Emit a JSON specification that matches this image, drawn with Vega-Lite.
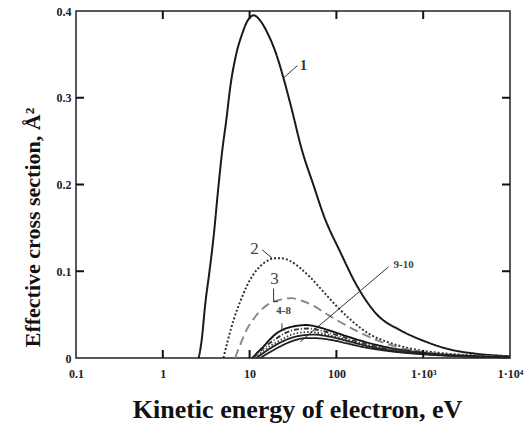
{
  "$schema": "https://vega.github.io/schema/vega-lite/v6.json",
  "width": 434,
  "height": 347,
  "autosize": {"type": "none"},
  "padding": {"left": 76, "top": 11, "right": 18, "bottom": 68},
  "background": "white",
  "config": {"view": {"stroke": "#222", "strokeWidth": 1.5}, "font": "Liberation Serif"},
  "datasets": {
    "curves": [
      {"curve": "1", "E": 2.59, "s": 0}, {"curve": "1", "E": 2.8, "s": 0.02}, {"curve": "1", "E": 3.09, "s": 0.063}, {"curve": "1", "E": 3.45, "s": 0.1}, {"curve": "1", "E": 3.85, "s": 0.14}, {"curve": "1", "E": 4.3, "s": 0.19}, {"curve": "1", "E": 4.8, "s": 0.236}, {"curve": "1", "E": 5.4, "s": 0.275}, {"curve": "1", "E": 6.0, "s": 0.313}, {"curve": "1", "E": 7.0, "s": 0.35}, {"curve": "1", "E": 8.17, "s": 0.373}, {"curve": "1", "E": 9.5, "s": 0.389}, {"curve": "1", "E": 11.2, "s": 0.395}, {"curve": "1", "E": 13, "s": 0.39}, {"curve": "1", "E": 16, "s": 0.375}, {"curve": "1", "E": 20, "s": 0.352}, {"curve": "1", "E": 25, "s": 0.32}, {"curve": "1", "E": 30, "s": 0.29}, {"curve": "1", "E": 40, "s": 0.24}, {"curve": "1", "E": 55, "s": 0.198}, {"curve": "1", "E": 71, "s": 0.165}, {"curve": "1", "E": 111, "s": 0.122}, {"curve": "1", "E": 173, "s": 0.083}, {"curve": "1", "E": 294, "s": 0.05}, {"curve": "1", "E": 545, "s": 0.032}, {"curve": "1", "E": 1000, "s": 0.02}, {"curve": "1", "E": 2000, "s": 0.01}, {"curve": "1", "E": 4000, "s": 0.005}, {"curve": "1", "E": 10000, "s": 0.002},
      {"curve": "2", "E": 5.0, "s": 0}, {"curve": "2", "E": 5.6, "s": 0.02}, {"curve": "2", "E": 6.55, "s": 0.044}, {"curve": "2", "E": 7.8, "s": 0.065}, {"curve": "2", "E": 9.3, "s": 0.083}, {"curve": "2", "E": 11, "s": 0.096}, {"curve": "2", "E": 13.3, "s": 0.106}, {"curve": "2", "E": 16, "s": 0.112}, {"curve": "2", "E": 19, "s": 0.115}, {"curve": "2", "E": 23, "s": 0.115}, {"curve": "2", "E": 29, "s": 0.112}, {"curve": "2", "E": 38, "s": 0.104}, {"curve": "2", "E": 50, "s": 0.093}, {"curve": "2", "E": 70, "s": 0.077}, {"curve": "2", "E": 100, "s": 0.06}, {"curve": "2", "E": 150, "s": 0.043}, {"curve": "2", "E": 245, "s": 0.027}, {"curve": "2", "E": 400, "s": 0.018}, {"curve": "2", "E": 700, "s": 0.011}, {"curve": "2", "E": 1500, "s": 0.006}, {"curve": "2", "E": 4000, "s": 0.003}, {"curve": "2", "E": 10000, "s": 0.0015},
      {"curve": "3", "E": 6.8, "s": 0}, {"curve": "3", "E": 8, "s": 0.018}, {"curve": "3", "E": 9.3, "s": 0.033}, {"curve": "3", "E": 11.5, "s": 0.047}, {"curve": "3", "E": 14.5, "s": 0.058}, {"curve": "3", "E": 19, "s": 0.065}, {"curve": "3", "E": 25, "s": 0.068}, {"curve": "3", "E": 30, "s": 0.069}, {"curve": "3", "E": 40, "s": 0.066}, {"curve": "3", "E": 55, "s": 0.06}, {"curve": "3", "E": 71, "s": 0.053}, {"curve": "3", "E": 100, "s": 0.044}, {"curve": "3", "E": 173, "s": 0.031}, {"curve": "3", "E": 300, "s": 0.02}, {"curve": "3", "E": 600, "s": 0.011}, {"curve": "3", "E": 1500, "s": 0.005}, {"curve": "3", "E": 4000, "s": 0.0025}, {"curve": "3", "E": 10000, "s": 0.0012},
      {"curve": "4", "E": 10.7, "s": 0}, {"curve": "4", "E": 12.5, "s": 0.007}, {"curve": "4", "E": 14.5, "s": 0.0134}, {"curve": "4", "E": 17, "s": 0.021}, {"curve": "4", "E": 20.7, "s": 0.0288}, {"curve": "4", "E": 26, "s": 0.034}, {"curve": "4", "E": 32, "s": 0.0364}, {"curve": "4", "E": 45, "s": 0.038}, {"curve": "4", "E": 60, "s": 0.036}, {"curve": "4", "E": 78, "s": 0.0326}, {"curve": "4", "E": 132, "s": 0.025}, {"curve": "4", "E": 206, "s": 0.019}, {"curve": "4", "E": 400, "s": 0.012}, {"curve": "4", "E": 1000, "s": 0.006}, {"curve": "4", "E": 3000, "s": 0.0025}, {"curve": "4", "E": 10000, "s": 0.001},
      {"curve": "5", "E": 11, "s": 0}, {"curve": "5", "E": 13, "s": 0.007}, {"curve": "5", "E": 16, "s": 0.015}, {"curve": "5", "E": 20, "s": 0.022}, {"curve": "5", "E": 26, "s": 0.029}, {"curve": "5", "E": 35, "s": 0.033}, {"curve": "5", "E": 48, "s": 0.034}, {"curve": "5", "E": 70, "s": 0.031}, {"curve": "5", "E": 120, "s": 0.024}, {"curve": "5", "E": 200, "s": 0.017}, {"curve": "5", "E": 400, "s": 0.011}, {"curve": "5", "E": 1000, "s": 0.0055}, {"curve": "5", "E": 3000, "s": 0.0022}, {"curve": "5", "E": 10000, "s": 0.0009},
      {"curve": "6", "E": 11.5, "s": 0}, {"curve": "6", "E": 14, "s": 0.007}, {"curve": "6", "E": 18, "s": 0.015}, {"curve": "6", "E": 24, "s": 0.022}, {"curve": "6", "E": 33, "s": 0.028}, {"curve": "6", "E": 48, "s": 0.03}, {"curve": "6", "E": 70, "s": 0.028}, {"curve": "6", "E": 120, "s": 0.022}, {"curve": "6", "E": 200, "s": 0.016}, {"curve": "6", "E": 400, "s": 0.01}, {"curve": "6", "E": 1000, "s": 0.005}, {"curve": "6", "E": 3000, "s": 0.002}, {"curve": "6", "E": 10000, "s": 0.0008},
      {"curve": "9", "E": 12, "s": 0}, {"curve": "9", "E": 15, "s": 0.007}, {"curve": "9", "E": 20, "s": 0.015}, {"curve": "9", "E": 28, "s": 0.022}, {"curve": "9", "E": 40, "s": 0.026}, {"curve": "9", "E": 55, "s": 0.027}, {"curve": "9", "E": 80, "s": 0.025}, {"curve": "9", "E": 130, "s": 0.02}, {"curve": "9", "E": 220, "s": 0.014}, {"curve": "9", "E": 400, "s": 0.009}, {"curve": "9", "E": 1000, "s": 0.0048}, {"curve": "9", "E": 3000, "s": 0.002}, {"curve": "9", "E": 10000, "s": 0.0008},
      {"curve": "10", "E": 13.3, "s": 0}, {"curve": "10", "E": 16, "s": 0.005}, {"curve": "10", "E": 22.6, "s": 0.0134}, {"curve": "10", "E": 32, "s": 0.02}, {"curve": "10", "E": 46, "s": 0.023}, {"curve": "10", "E": 60, "s": 0.0228}, {"curve": "10", "E": 85, "s": 0.021}, {"curve": "10", "E": 130, "s": 0.017}, {"curve": "10", "E": 206, "s": 0.0125}, {"curve": "10", "E": 400, "s": 0.008}, {"curve": "10", "E": 1000, "s": 0.0042}, {"curve": "10", "E": 3000, "s": 0.0018}, {"curve": "10", "E": 10000, "s": 0.0007}
    ],
    "frameticks": [
      {"x1": 1, "x2": 1, "y1": 0, "y2": 0.0092}, {"x1": 10, "x2": 10, "y1": 0, "y2": 0.0092}, {"x1": 100, "x2": 100, "y1": 0, "y2": 0.0092}, {"x1": 1000, "x2": 1000, "y1": 0, "y2": 0.0092},
      {"x1": 1, "x2": 1, "y1": 0.4, "y2": 0.3908}, {"x1": 10, "x2": 10, "y1": 0.4, "y2": 0.3908}, {"x1": 100, "x2": 100, "y1": 0.4, "y2": 0.3908}, {"x1": 1000, "x2": 1000, "y1": 0.4, "y2": 0.3908},
      {"x1": 0.1, "x2": 0.1236, "y1": 0.1, "y2": 0.1}, {"x1": 0.1, "x2": 0.1236, "y1": 0.2, "y2": 0.2}, {"x1": 0.1, "x2": 0.1236, "y1": 0.3, "y2": 0.3},
      {"x1": 10000, "x2": 8090, "y1": 0.1, "y2": 0.1}, {"x1": 10000, "x2": 8090, "y1": 0.2, "y2": 0.2}, {"x1": 10000, "x2": 8090, "y1": 0.3, "y2": 0.3}
    ],
    "leaders": [
      {"id": "1", "x1": 24.7, "y1": 0.323, "x2": 35.5, "y2": 0.337},
      {"id": "2", "x1": 13.9, "y1": 0.1248, "x2": 18.1, "y2": 0.1153},
      {"id": "3a", "x1": 18.9, "y1": 0.08, "x2": 18.9, "y2": 0.065},
      {"id": "3b", "x1": 18.9, "y1": 0.065, "x2": 21.3, "y2": 0.065},
      {"id": "48a", "x1": 23.6, "y1": 0.04, "x2": 23.6, "y2": 0.0323},
      {"id": "48b", "x1": 23.6, "y1": 0.0323, "x2": 25.5, "y2": 0.0323},
      {"id": "910", "x1": 398, "y1": 0.105, "x2": 38.4, "y2": 0.0188}
    ],
    "labels": [
      {"text": "1", "E": 41.7, "s": 0.337, "kind": "big"},
      {"text": "2", "E": 11.4, "s": 0.1253, "kind": "reg"},
      {"text": "3", "E": 19.4, "s": 0.091, "kind": "reg"},
      {"text": "4-8", "E": 24.7, "s": 0.0537, "kind": "small"},
      {"text": "9-10", "E": 594, "s": 0.1075, "kind": "small"}
    ]
  },
  "layer": [
    {
      "data": {"name": "curves"},
      "mark": {"type": "line", "interpolate": "monotone"},
      "encoding": {
        "x": {
          "field": "E", "type": "quantitative",
          "scale": {"type": "log", "domain": [0.1, 10000], "nice": false},
          "axis": {
            "orient": "bottom", "values": [0.1, 1, 10, 100, 1000, 10000],
            "labelExpr": "datum.value == 1000 ? '1·10³' : datum.value == 10000 ? '1·10⁴' : datum.value == 0.1 ? '0.1' : datum.value == 1 ? '1' : datum.value == 10 ? '10' : '100'",
            "ticks": false, "domain": false, "grid": false,
            "labelFont": "Liberation Serif", "labelFontWeight": "bold", "labelFontSize": 12, "labelColor": "#222",
            "labelPadding": 10, "labelFlush": false,
            "title": "Kinetic energy of electron, eV",
            "titleFont": "Liberation Serif", "titleFontSize": 26, "titleFontWeight": "bold", "titleColor": "#111",
            "titleX": 221, "titleY": 59, "titleBaseline": "alphabetic", "titleAlign": "center"
          }
        },
        "y": {
          "field": "s", "type": "quantitative",
          "scale": {"domain": [0, 0.4], "nice": false},
          "axis": {
            "orient": "left", "values": [0, 0.1, 0.2, 0.3, 0.4],
            "labelExpr": "datum.value == 0 ? '0' : format(datum.value, '.1f')",
            "ticks": false, "domain": false, "grid": false,
            "labelFont": "Liberation Serif", "labelFontWeight": "bold", "labelFontSize": 12, "labelColor": "#222",
            "labelPadding": 5, "labelFlush": false,
            "title": "Effective cross section, Å²",
            "titleFont": "Liberation Serif", "titleFontSize": 22, "titleFontWeight": "bold", "titleColor": "#111",
            "titleX": -44, "titleY": 216, "titleAngle": -90, "titleBaseline": "middle", "titleAlign": "center"
          }
        },
        "color": {"field": "curve", "type": "nominal", "legend": null,
          "scale": {"domain": ["1", "2", "3", "4", "5", "6", "9", "10"], "range": ["#1a1a1a", "#333333", "#888888", "#111111", "#333333", "#444444", "#222222", "#222222"]}},
        "strokeDash": {"field": "curve", "type": "nominal", "legend": null,
          "scale": {"domain": ["1", "2", "3", "4", "5", "6", "9", "10"], "range": [[1, 0], [2, 2], [9, 5], [1, 0], [5, 2, 1, 2], [1.5, 2], [1, 0], [1, 0]]}},
        "strokeWidth": {"field": "curve", "type": "nominal", "legend": null,
          "scale": {"domain": ["1", "2", "3", "4", "5", "6", "9", "10"], "range": [2, 1.8, 1.2, 2.5, 1.6, 1.6, 1.3, 1.6]}}
      }
    },
    {
      "data": {"name": "frameticks"},
      "mark": {"type": "rule", "color": "#111", "strokeWidth": 2},
      "encoding": {
        "x": {"field": "x1", "type": "quantitative", "axis": null},
        "x2": {"field": "x2"},
        "y": {"field": "y1", "type": "quantitative", "axis": null},
        "y2": {"field": "y2"}
      }
    },
    {
      "data": {"name": "leaders"},
      "mark": {"type": "rule", "color": "#333", "strokeWidth": 1},
      "encoding": {
        "x": {"field": "x1", "type": "quantitative", "axis": null},
        "x2": {"field": "x2"},
        "y": {"field": "y1", "type": "quantitative", "axis": null},
        "y2": {"field": "y2"}
      }
    },
    {
      "data": {"name": "labels"},
      "transform": [{"filter": "datum.kind == 'big'"}],
      "mark": {"type": "text", "font": "Liberation Serif", "fontWeight": "bold", "fontSize": 14, "color": "#333", "align": "center", "baseline": "middle"},
      "encoding": {
        "x": {"field": "E", "type": "quantitative", "axis": null},
        "y": {"field": "s", "type": "quantitative", "axis": null},
        "text": {"field": "text"}
      }
    },
    {
      "data": {"name": "labels"},
      "transform": [{"filter": "datum.kind == 'reg'"}],
      "mark": {"type": "text", "font": "Liberation Serif", "fontSize": 17, "color": "#444", "align": "center", "baseline": "middle"},
      "encoding": {
        "x": {"field": "E", "type": "quantitative", "axis": null},
        "y": {"field": "s", "type": "quantitative", "axis": null},
        "text": {"field": "text"}
      }
    },
    {
      "data": {"name": "labels"},
      "transform": [{"filter": "datum.kind == 'small'"}],
      "mark": {"type": "text", "font": "Liberation Serif", "fontWeight": "bold", "fontSize": 11, "color": "#444", "align": "center", "baseline": "middle"},
      "encoding": {
        "x": {"field": "E", "type": "quantitative", "axis": null},
        "y": {"field": "s", "type": "quantitative", "axis": null},
        "text": {"field": "text"}
      }
    }
  ],
  "resolve": {"axis": {"x": "independent", "y": "independent"}}
}
